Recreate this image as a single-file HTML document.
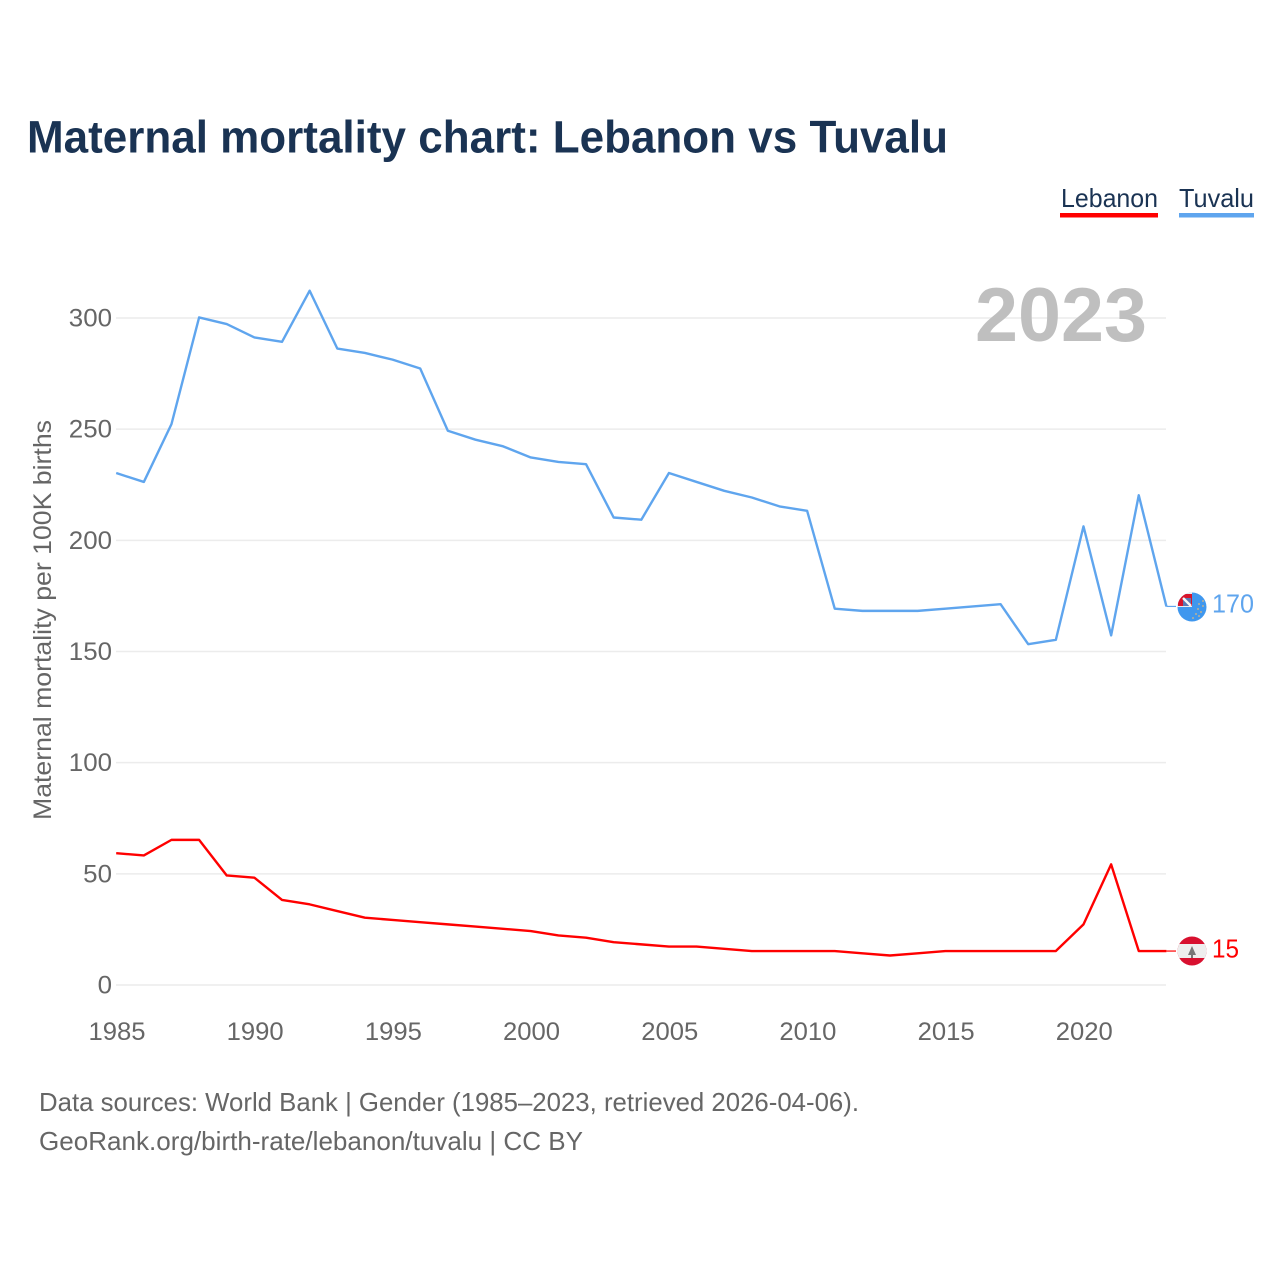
<!DOCTYPE html>
<html lang="en">
<head>
<meta charset="utf-8">
<title>Maternal mortality chart: Lebanon vs Tuvalu</title>
<style>
html,body{margin:0;padding:0;background:#fff}
svg{display:block}
text{font-family:"Liberation Sans",sans-serif}
</style>
</head>
<body>
<svg id="chart" xmlns="http://www.w3.org/2000/svg" width="1280" height="1280" viewBox="0 0 1280 1280">
  <defs>
    <clipPath id="clip-tv"><circle cx="1192" cy="607" r="14.5"/></clipPath>
    <clipPath id="clip-lb"><circle cx="1192" cy="951" r="14.5"/></clipPath>
  </defs>
  <rect width="1280" height="1280" fill="#fff"/>
  <text x="27" y="152.5" font-size="45" font-weight="700" fill="#1a3353" textLength="921" lengthAdjust="spacingAndGlyphs">Maternal mortality chart: Lebanon vs Tuvalu</text>

  <g>
    <g>
      <text x="1061" y="207" font-size="26" fill="#1a3353" textLength="97" lengthAdjust="spacingAndGlyphs">Lebanon</text>
      <rect x="1060" y="213" width="98" height="4.5" fill="#ff0000"/>
    </g>
    <g>
      <text x="1179" y="207" font-size="26" fill="#1a3353" textLength="75" lengthAdjust="spacingAndGlyphs">Tuvalu</text>
      <rect x="1179" y="213" width="75" height="4.5" fill="#5fa5ee"/>
    </g>
  </g>

  <g id="grid"></g>
  <g id="y-ticks"></g>
  <g id="x-ticks"></g>

  <text x="1147" y="341" text-anchor="end" font-size="76" font-weight="700" fill="#bfbfbf" textLength="172" lengthAdjust="spacingAndGlyphs">2023</text>

  <text transform="translate(51,820) rotate(-90)" x="0" y="0" font-size="25" fill="#666" textLength="400" lengthAdjust="spacingAndGlyphs">Maternal mortality per 100K births</text>

  <g id="series" transform="translate(0,-0.6)"></g>

  <g clip-path="url(#clip-tv)">
    <rect x="1177" y="592" width="30" height="30" fill="#3f97ee"/>
    <rect x="1177" y="592" width="15" height="15" fill="#ecebee"/>
    <rect x="1178" y="594" width="14" height="12" fill="#d8142c"/>
    <rect x="1183" y="598" width="8" height="8" fill="#5a78b4"/>
    <path d="M1183 598 L1191 606" stroke="#f6f6f6" stroke-width="2.4"/>
    <g fill="#b9b09a">
      <circle cx="1203" cy="601" r="1"/><circle cx="1199" cy="604" r="1"/><circle cx="1203" cy="606" r="1"/>
      <circle cx="1198" cy="609" r="1"/><circle cx="1201" cy="612" r="1"/><circle cx="1196" cy="614" r="1"/>
      <circle cx="1199" cy="616" r="1"/><circle cx="1193" cy="618" r="1"/>
    </g>
  </g>

  <g clip-path="url(#clip-lb)">
    <rect x="1177" y="936" width="30" height="30" fill="#d8102f"/>
    <rect x="1177" y="944" width="30" height="14" fill="#eeeeee"/>
    <path d="M1192 946 L1196 955 L1193 955 L1193 958 L1191 958 L1191 955 L1188 955 Z" fill="#777"/>
  </g>

  <text x="1212" y="612.5" font-size="26" fill="#5fa5ee" textLength="42" lengthAdjust="spacingAndGlyphs">170</text>
  <text x="1212" y="957.5" font-size="26" fill="#ff0000" textLength="27" lengthAdjust="spacingAndGlyphs">15</text>

  <text x="39" y="1111" font-size="26" fill="#666" textLength="820" lengthAdjust="spacingAndGlyphs">Data sources: World Bank | Gender (1985–2023, retrieved 2026-04-06).</text>
  <text x="39" y="1150" font-size="26" fill="#666" textLength="544" lengthAdjust="spacingAndGlyphs">GeoRank.org/birth-rate/lebanon/tuvalu | CC BY</text>
</svg>
<script>
const years = [1985,1986,1987,1988,1989,1990,1991,1992,1993,1994,1995,1996,1997,1998,1999,2000,2001,2002,2003,2004,2005,2006,2007,2008,2009,2010,2011,2012,2013,2014,2015,2016,2017,2018,2019,2020,2021,2022,2023];
const tuvaluValues = [230,226,252,300,297,291,289,312,286,284,281,277,249,245,242,237,235,234,210,209,230,226,222,219,215,213,169,168,168,168,169,170,171,153,155,206,157,220,170];
const lebanonValues = [59,58,65,65,49,48,38,36,33,30,29,28,27,26,25,24,22,21,19,18,17,17,16,15,15,15,15,14,13,14,15,15,15,15,15,27,54,15,15];
const yTickValues = [0,50,100,150,200,250,300];
const xTickValues = [1985,1990,1995,2000,2005,2010,2015,2020];

const NS = 'http://www.w3.org/2000/svg';
const xScale = y => 116.2 + (y - 1985) * (1166.4 - 116.2) / (2023 - 1985);
const yScale = v => 985 - v * (985 - 318) / 300;

function make(tag, attrs, parent) {
  const el = document.createElementNS(NS, tag);
  for (const k in attrs) el.setAttribute(k, attrs[k]);
  parent.appendChild(el);
  return el;
}

const grid = document.getElementById('grid');
const yTicks = document.getElementById('y-ticks');
const xTicks = document.getElementById('x-ticks');
const series = document.getElementById('series');

yTickValues.forEach(v => {
  const line = make('line', {x1: 116, x2: 1166, y1: yScale(v), y2: yScale(v), stroke: '#ececec', 'stroke-width': 1.5}, grid);
  
  
  const label = make('text', {x: 112, y: yScale(v) + 8.5, 'text-anchor': 'end', 'font-size': 25, fill: '#666'}, yTicks);
  
  
  label.setAttribute('textLength', String(v).length * 14.4);
  label.setAttribute('lengthAdjust', 'spacingAndGlyphs');
  label.textContent = v;
});

xTickValues.forEach(y => {
  const label = make('text', {x: xScale(y) + 0.8, y: 1040, 'text-anchor': 'middle', 'font-size': 25, fill: '#666'}, xTicks);
  
  
  label.setAttribute('textLength', 57);
  label.setAttribute('lengthAdjust', 'spacingAndGlyphs');
  label.textContent = y;
});

function linePoints(values) {
  return values.map((v, i) => xScale(years[i]).toFixed(2) + ',' + yScale(v).toFixed(2)).join(' ');
}

const tuvaluLine = make('polyline', {points: linePoints(tuvaluValues), fill: 'none', stroke: '#5fa5ee', 'stroke-width': 2.4, 'stroke-linejoin': 'round'}, series);



const lebanonLine = make('polyline', {points: linePoints(lebanonValues), fill: 'none', stroke: '#ff0000', 'stroke-width': 2.4, 'stroke-linejoin': 'round'}, series);



const tuvaluLead = make('line', {x1: xScale(2023), x2: 1176, y1: yScale(170), y2: yScale(170), stroke: '#5fa5ee', 'stroke-width': 1.2}, series);



const lebanonLead = make('line', {x1: xScale(2023), x2: 1176, y1: yScale(15), y2: yScale(15), stroke: '#ff0000', 'stroke-width': 1.2}, series);


</script>
</body>
</html>
